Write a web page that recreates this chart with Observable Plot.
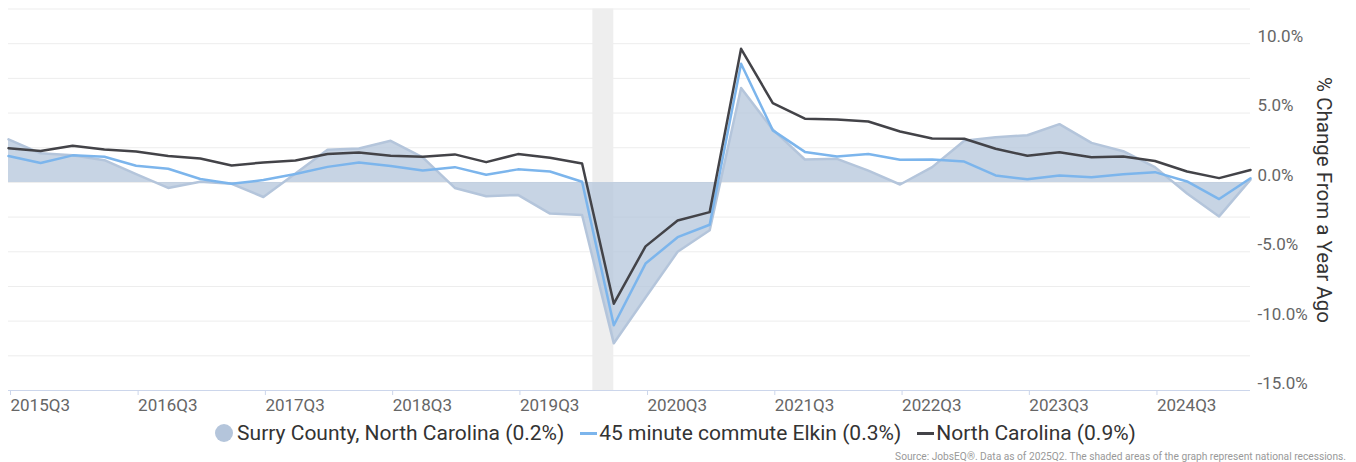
<!DOCTYPE html>
<html>
<head>
<meta charset="utf-8">
<script src="https://cdn.jsdelivr.net/npm/d3@7"></script>
<script src="https://cdn.jsdelivr.net/npm/@observablehq/plot@0.6"></script>
<style>
  html, body { margin: 0; padding: 0; background: #fff; }
  body { width: 1356px; height: 462px; overflow: hidden; font-family: Roboto, sans-serif; }
  #chart svg { display: block; }
  #legend { display: flex; align-items: center; justify-content: center; height: 36px; margin-left: -5px; font-size: 21px; color: #333; }
  #legend .item { display: flex; align-items: center; margin: 0 8px; }
  #legend .dot { width: 18px; height: 18px; border-radius: 50%; margin-right: 4px; }
  #legend .ln { width: 17px; height: 3px; margin-right: 2px; }
  #source { text-align: right; padding-right: 10px; font-size: 10.2px; color: #999; line-height: 12px; }
</style>
</head>
<body>
<div id="chart"></div>
<div id="legend"></div>
<div id="source">Source: JobsEQ®. Data as of 2025Q2. The shaded areas of the graph represent national recessions.</div>
<script>
const quarters = ["2015Q3","2015Q4","2016Q1","2016Q2","2016Q3","2016Q4","2017Q1","2017Q2","2017Q3","2017Q4",
  "2018Q1","2018Q2","2018Q3","2018Q4","2019Q1","2019Q2","2019Q3","2019Q4","2020Q1","2020Q2",
  "2020Q3","2020Q4","2021Q1","2021Q2","2021Q3","2021Q4","2022Q1","2022Q2","2022Q3","2022Q4",
  "2023Q1","2023Q2","2023Q3","2023Q4","2024Q1","2024Q2","2024Q3","2024Q4","2025Q1","2025Q2"];
const surry = [3.1, 2.1, 1.95, 1.6, 0.6, -0.4, 0.05, -0.1, -1.05, 0.65,
  2.35, 2.45, 3.0, 1.8, -0.4, -1.0, -0.9, -2.25, -2.35, -11.6,
  -8.3, -5.0, -3.45, 6.8, 3.8, 1.65, 1.7, 0.85, -0.15, 1.1,
  3.0, 3.25, 3.4, 4.2, 2.85, 2.25, 1.1, -0.8, -2.45, 0.2];
const elkin = [1.9, 1.4, 1.95, 1.85, 1.2, 0.98, 0.25, -0.1, 0.17, 0.6,
  1.12, 1.44, 1.18, 0.86, 1.1, 0.55, 0.94, 0.79, 0.05, -10.3,
  -5.85, -3.95, -3.05, 8.55, 3.75, 2.2, 1.87, 2.05, 1.63, 1.66,
  1.5, 0.5, 0.22, 0.5, 0.38, 0.58, 0.74, 0.07, -1.2, 0.3];
const northCarolina = [2.47, 2.26, 2.64, 2.38, 2.23, 1.9, 1.73, 1.22, 1.44, 1.58,
  2.05, 2.16, 1.92, 1.85, 2.02, 1.46, 2.04, 1.78, 1.37, -8.74,
  -4.61, -2.74, -2.14, 9.63, 5.71, 4.59, 4.54, 4.39, 3.67, 3.17,
  3.15, 2.43, 1.92, 2.18, 1.82, 1.87, 1.54, 0.79, 0.31, 0.9];
const xTickLabels = ["2015Q3","2016Q3","2017Q3","2018Q3","2019Q3","2020Q3","2021Q3","2022Q3","2023Q3","2024Q3"];
const yTicks = [-15, -10, -5, 0, 5, 10];
const yGrid = [-12.5, -10, -7.5, -5, -2.5, 0, 2.5, 5, 7.5, 10, 12.5];
const recessions = [{start: "2020-02-01", end: "2020-04-01"}];
const seriesNames = ["Surry County, North Carolina (0.2%)", "45 minute commute Elkin (0.3%)", "North Carolina (0.9%)"];
const seriesColors = ["#b4c5db", "#7cb5ec", "#434348"];
const yTitle = "% Change From a Year Ago";

const parseQ = s => new Date(Date.UTC(+s.slice(0, 4), (+s.slice(5) - 1) * 3, 1));
const fmtQ = d => d.getUTCFullYear() + "Q" + (Math.floor(d.getUTCMonth() / 3) + 1);

const rows = quarters.map((q, i) => ({date: parseQ(q), surry: surry[i], elkin: elkin[i], nc: northCarolina[i]}));
const rec = recessions.map(r => ({start: new Date(r.start), end: new Date(r.end)}));

const chart = Plot.plot({
  width: 1356,
  height: 415,
  marginLeft: 8,
  marginRight: 106,
  marginTop: 8.5,
  marginBottom: 25,
  style: {fontFamily: "Roboto, sans-serif", background: "#fff"},
  x: {type: "utc", domain: [parseQ(quarters[0]), parseQ(quarters[quarters.length - 1])]},
  y: {domain: [-15, 12.5]},
  marks: [
    Plot.gridY(yGrid, {stroke: "#ededed", strokeOpacity: 1, strokeWidth: 1}),
    Plot.rect(rec, {x1: "start", x2: "end", fill: "#eeeeee"}),
    Plot.areaY(rows, {x: "date", y: "surry", fill: seriesColors[0], fillOpacity: 0.75}),
    Plot.lineY(rows, {x: "date", y: "surry", stroke: seriesColors[0], strokeWidth: 2.5}),
    Plot.lineY(rows, {x: "date", y: "elkin", stroke: seriesColors[1], strokeWidth: 2.5}),
    Plot.lineY(rows, {x: "date", y: "nc", stroke: seriesColors[2], strokeWidth: 2.5}),
    Plot.ruleY([-15], {stroke: "#ccd6eb", strokeWidth: 1}),
    Plot.axisX({ticks: xTickLabels.map(parseQ), tickFormat: fmtQ, textAnchor: "start", dx: 2,
      tickSize: 5, tickPadding: 3, stroke: "#ccd6eb", fill: "#666", fontSize: 17, label: null}),
    Plot.axisY({anchor: "right", ticks: yTicks, tickSize: 0, tickPadding: 7, dy: -7,
      tickFormat: d => d.toFixed(1) + "%", fill: "#666", fontSize: 17, label: null})
  ]
});
document.getElementById("chart").appendChild(chart);

d3.select(chart).append("text")
  .attr("transform", "translate(1322,200) rotate(90)")
  .attr("text-anchor", "middle")
  .attr("dominant-baseline", "middle")
  .attr("font-size", 20.5)
  .attr("font-family", "Roboto, sans-serif")
  .attr("fill", "#333")
  .text(yTitle);

const legend = d3.select("#legend");
seriesNames.forEach((name, i) => {
  const item = legend.append("div").attr("class", "item");
  item.append("div").attr("class", i === 0 ? "dot" : "ln").style("background", seriesColors[i]);
  item.append("span").text(name);
});
</script>
</body>
</html>
